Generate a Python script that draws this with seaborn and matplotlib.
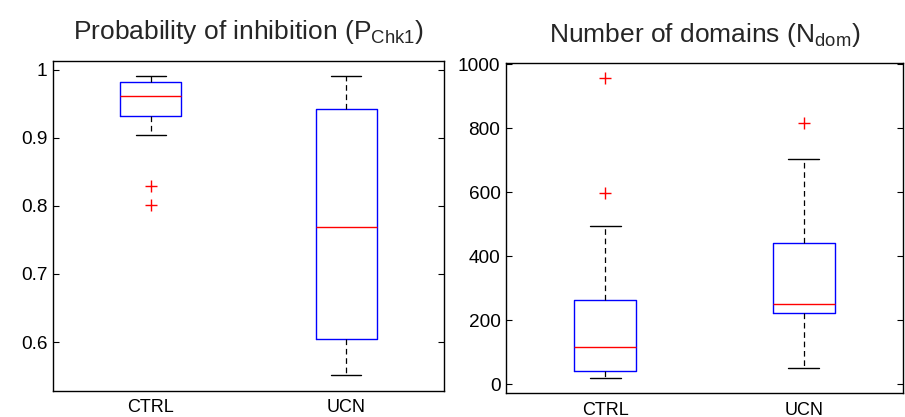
import numpy as np
import pandas as pd
import matplotlib
matplotlib.use("Agg")
import matplotlib.pyplot as plt
import seaborn as sns

sns.set_style("white")
plt.rcParams["font.family"] = ["Liberation Sans", "DejaVu Sans"]
plt.rcParams["mathtext.fontset"] = "custom"
plt.rcParams["mathtext.rm"] = "Liberation Sans"
plt.rcParams["mathtext.it"] = "Liberation Sans"

groups = ["CTRL", "UCN"]

# Probability of inhibition per cell (P_Chk1)
p_chk1_ctrl = [0.801, 0.829, 0.904, 0.932, 0.945, 0.955, 0.962,
               0.970, 0.976, 0.982, 0.986, 0.989, 0.991]
p_chk1_ucn = [0.551, 0.580, 0.604, 0.700, 0.769, 0.850, 0.943, 0.970, 0.991]

# Number of domains per cell (N_dom)
n_dom_ctrl = [18, 25, 35, 42, 70, 95, 117, 150, 200, 263, 495, 598, 958]
n_dom_ucn = [51, 150, 221, 235, 249, 330, 442, 704, 817]

prob_ticks = [0.6, 0.7, 0.8, 0.9, 1.0]
prob_ticklabels = ["0.6", "0.7", "0.8", "0.9", "1"]
dom_ticks = [0, 200, 400, 600, 800, 1000]


def long_form(ctrl, ucn):
    return pd.DataFrame({
        "group": ["CTRL"] * len(ctrl) + ["UCN"] * len(ucn),
        "value": list(ctrl) + list(ucn),
    })


fig = plt.figure(figsize=(9.05, 4.17), dpi=100)
ax1 = fig.add_axes([53 / 905, 26 / 417, 391 / 905, 330 / 417])
ax2 = fig.add_axes([506 / 905, 23.7 / 417, 397 / 905, 330 / 417])

box_kws = dict(
    order=groups,
    width=0.31,
    fill=False,
    linewidth=1.0,
    boxprops=dict(color="#0000ff", linewidth=1.0),
    medianprops=dict(color="#ff0000", linewidth=1.0),
    whiskerprops=dict(color="black", linewidth=0.9, linestyle=(0, (4.5, 3))),
    capprops=dict(color="black", linewidth=1.0),
    flierprops=dict(marker="+", markeredgecolor="#ff0000", markerfacecolor="none",
                    markersize=9, markeredgewidth=1.0, linestyle="none"),
)

sns.boxplot(data=long_form(p_chk1_ctrl, p_chk1_ucn), x="group", y="value", ax=ax1, **box_kws)
sns.boxplot(data=long_form(n_dom_ctrl, n_dom_ucn), x="group", y="value", ax=ax2, **box_kws)

ax1.set_ylim(0.528, 1.013)
ax1.set_yticks(prob_ticks)
ax1.set_yticklabels(prob_ticklabels)
ax2.set_ylim(-29, 1003)
ax2.set_yticks(dom_ticks)
ax2.set_yticklabels([str(t) for t in dom_ticks])

ax1.set_title(r"Probability of inhibition (P$_{\mathregular{Chk1}}$)", fontsize=19, pad=16)
ax2.set_title(r"Number of domains (N$_{\mathregular{dom}}$)", fontsize=19, pad=15)

for ax in (ax1, ax2):
    ax.set_xlim(-0.5, 1.5)
    ax.set_xlabel("")
    ax.set_ylabel("")
    for side in ("left", "right", "top", "bottom"):
        ax.spines[side].set_visible(True)
        ax.spines[side].set_color("black")
        ax.spines[side].set_linewidth(1.0)
    ax.tick_params(axis="y", direction="in", left=True, right=True, length=4,
                   width=0.8, labelsize=13.7, pad=4, colors="black")
    ax.tick_params(axis="x", length=0, labelsize=13, pad=6, colors="black")

fig.savefig("out.png", dpi=100, facecolor="white")
